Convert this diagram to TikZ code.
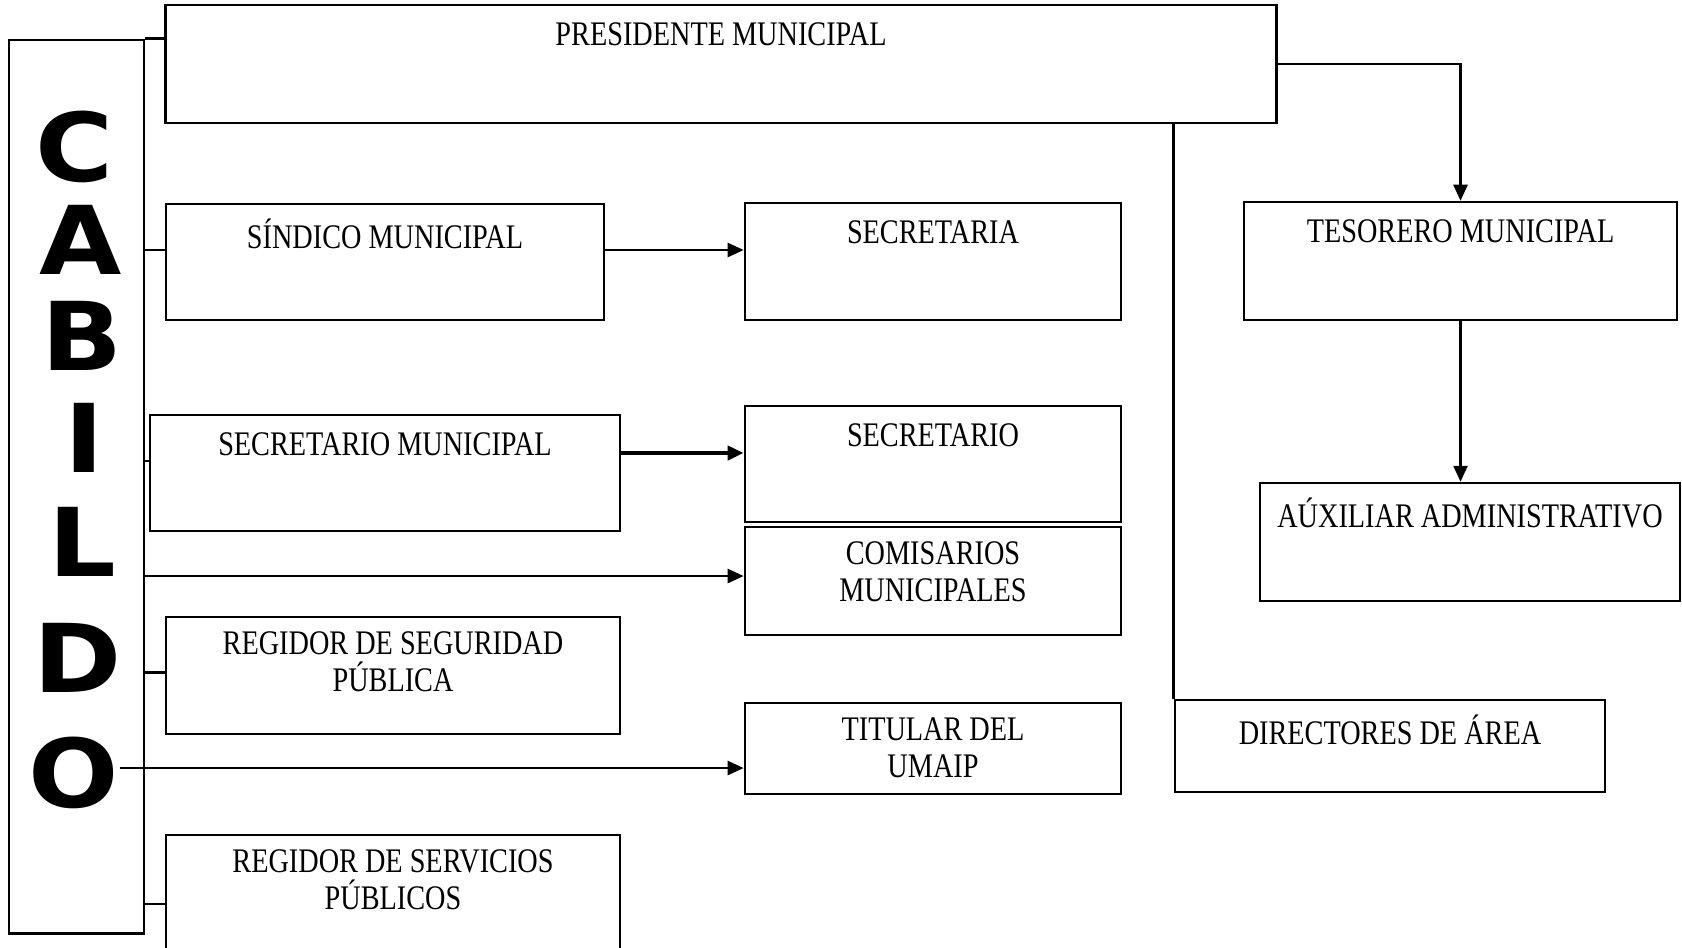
\documentclass[tikz,border=0pt]{standalone}
\usepackage{fontspec}
\setmainfont{Liberation Serif}[FakeStretch=0.82]
\newfontfamily\capfont{DejaVu Sans}[FakeStretch=1.12]
\usetikzlibrary{arrows.meta}

\begin{document}
\begin{tikzpicture}[x=0.01cm,y=-0.01cm,
  box/.style={draw,line width=0.7pt,inner sep=0pt},
  txt/.style={anchor=north,yshift=-1.55mm,align=center,inner sep=0pt,
    font=\fontsize{9.8}{10.4}\selectfont,execute at begin node=\strut},
  lt/.style={inner sep=0pt,font=\capfont\bfseries\fontsize{27}{27}\selectfont},
  arr/.style={-{Triangle[length=1.6mm,width=1.4mm]},line width=0.7pt}]
  \useasboundingbox (0,0) rectangle (1682,947);
  \clip (0,0) rectangle (1682,947);

  \node[box,minimum width=1.35cm,minimum height=8.93cm] (ca) at (76.5,486.5) {};
  \foreach \l/\x/\y [count=\i] in {C/75/147,A/81/240,B/82/336,I/84/438,L/82/542,D/78/658,O/74/773}
    \node[lt] (l\i) at (\x,\y) {\l};

  \node[box,minimum width=11.10cm,minimum height=1.18cm,label={[txt]north:PRESIDENTE MUNICIPAL}] (pr) at (721,64) {};
  \node[box,minimum width=4.38cm,minimum height=1.16cm,label={[txt]north:SÍNDICO MUNICIPAL}] (sm) at (385,262) {};
  \node[box,minimum width=3.76cm,minimum height=1.17cm,label={[txt]north:SECRETARIA}] (sa) at (933,261.5) {};
  \node[box,minimum width=4.33cm,minimum height=1.18cm,label={[txt]north:TESORERO MUNICIPAL}] (tm) at (1460.5,261) {};
  \node[box,minimum width=4.20cm,minimum height=1.18cm,label={[txt]north:AÚXILIAR ADMINISTRATIVO}] (aa) at (1470,542) {};
  \node[box,minimum width=4.70cm,minimum height=1.16cm,label={[txt]north:SECRETARIO MUNICIPAL}] (sc) at (385,473) {};
  \node[box,minimum width=3.76cm,minimum height=1.16cm,label={[txt]north:SECRETARIO}] (so) at (933,464) {};
  \node[box,minimum width=3.76cm,minimum height=1.08cm,label={[txt]north:COMISARIOS\\MUNICIPALES}] (cm) at (933,581) {};
  \node[box,minimum width=4.54cm,minimum height=1.17cm,label={[txt]north:REGIDOR DE SEGURIDAD\\PÚBLICA}] (rs) at (393,675.5) {};
  \node[box,minimum width=3.76cm,minimum height=0.91cm,label={[txt]north:TITULAR DEL\\UMAIP}] (tu) at (933,748.5) {};
  \node[box,minimum width=4.30cm,minimum height=0.92cm,label={[txt]north:DIRECTORES DE ÁREA}] (da) at (1390,746) {};
  \node[box,minimum width=4.54cm,minimum height=1.20cm,label={[txt]north:REGIDOR DE SERVICIOS\\PÚBLICOS}] (rp) at (393,895) {};

  \draw[line width=0.7pt] (ca.north east) -- (ca.north east -| pr.west);
  \draw[arr] (pr.east) -| (tm.north);
  \draw[line width=0.7pt] (da.north west) -- (da.north west |- pr.south);
  \draw[arr] (tm.south) -- (tm.south |- aa.north);
  \draw[line width=0.7pt] ([yshift=1.2mm]sm.west) -- ([yshift=1.2mm]sm.west -| ca.east);
  \draw[arr] ([yshift=1.2mm]sm.east) -- ([yshift=1.2mm]sm.east -| sa.west);
  \draw[line width=0.7pt] ([yshift=1.2mm]sc.west) -- ([yshift=1.2mm]sc.west -| ca.east);
  \draw[arr,line width=1.3pt] ([yshift=2mm]sc.east) -- ([yshift=2mm]sc.east -| so.west);
  \draw[arr] ([yshift=.5mm]cm.west -| ca.east) -- ([yshift=.5mm]cm.west);
  \draw[line width=0.7pt] ([yshift=.3mm]rs.west) -- ([yshift=.3mm]rs.west -| ca.east);
  \draw[arr] ([yshift=-1.95mm]tu.west -| l7.east) -- ([yshift=-1.95mm]tu.west);
  \draw[line width=0.7pt] ([yshift=-.9mm]rp.west) -- ([yshift=-.9mm]rp.west -| ca.east);
\end{tikzpicture}
\end{document}
